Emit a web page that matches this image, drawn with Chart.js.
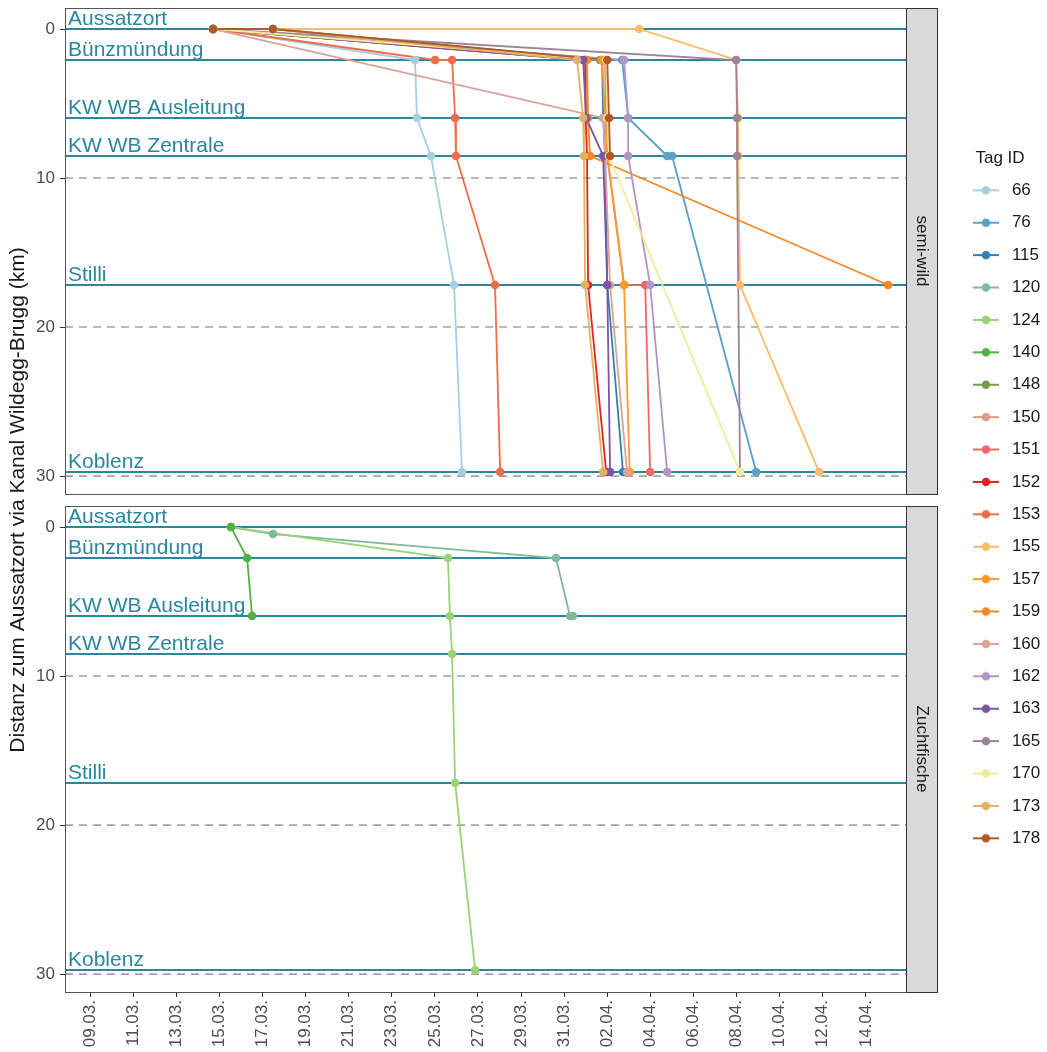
<!DOCTYPE html>
<html>
<head>
<meta charset="utf-8">
<script src="https://cdn.jsdelivr.net/npm/chart.js@4.4.1/dist/chart.umd.min.js"></script>
<style>
  html, body { margin: 0; padding: 0; background: #fff; }
</style>
</head>
<body>
<canvas id="fish" width="1047" height="1052"></canvas>
<script>
const FONT = "'Liberation Sans', Arial, sans-serif";

// river stations (km from release site)
const stationNames = ['Aussatzort', 'Bünzmündung', 'KW WB Ausleitung', 'KW WB Zentrale', 'Stilli', 'Koblenz'];
const stationKm = [0, 2.08, 5.97, 8.52, 17.18, 29.73];
const gridKm = [10, 20, 30];
const yTicks = [0, 10, 20, 30];
const yTickLabels = ['0', '10', '20', '30'];

// x = day counted from 1 March (32 = 01.04.)
const xTickDays = [9, 11, 13, 15, 17, 19, 21, 23, 25, 27, 29, 31, 33, 35, 37, 39, 41, 43, 45];
const xTickLabels = ['09.03.', '11.03.', '13.03.', '15.03.', '17.03.', '19.03.', '21.03.', '23.03.', '25.03.',
  '27.03.', '29.03.', '31.03.', '02.04.', '04.04.', '06.04.', '08.04.', '10.04.', '12.04.', '14.04.'];

const panelNames = ['semi-wild', 'Zuchtfische'];
const kmRange = [-1.41, 31.2];
const panelGap = 0.81;
const panelOffsets = [0, kmRange[1] - kmRange[0] + panelGap];

const tagIds = [66, 76, 115, 120, 124, 140, 148, 150, 151, 152, 153, 155, 157, 159, 160, 162, 163, 165, 170, 173, 178];
const tagPanel = [0, 0, 0, 1, 1, 1, 0, 0, 0, 0, 0, 0, 0, 0, 0, 0, 0, 0, 0, 0, 0];
const tagColors = ['#A6CEE3', '#5C9FC9', '#2E82B0', '#7FBB99', '#99D277', '#53B044', '#6F9E4D', '#DD9B89',
  '#F16767', '#E42022', '#F06C46', '#FDBC69', '#FE992C', '#F78720', '#DAA396', '#B295C7', '#7D54A6',
  '#9E819A', '#F0EC99', '#DCB466', '#B15928'];

// detections: [day, km]
const track66 = [[14.71, 0], [24.08, 2.08], [24.17, 5.97], [24.82, 8.52], [25.89, 17.18], [26.26, 29.73]];
const track76 = [[14.71, 0], [33.69, 2.08], [33.97, 5.97], [35.78, 8.52], [36.01, 8.52], [39.91, 29.73]];
const track115 = [[14.71, 0], [32.76, 2.08], [32.81, 5.97], [32.9, 8.52], [33.0, 17.18], [33.73, 29.73]];
const track120 = [[15.54, 0], [17.49, 0.47], [30.62, 2.08], [31.27, 5.97], [31.41, 5.97]];
const track124 = [[15.54, 0], [25.61, 2.08], [25.7, 5.97], [25.8, 8.52], [25.94, 17.18], [26.87, 29.73]];
const track140 = [[15.54, 0], [16.29, 2.08], [16.52, 5.97]];
const track148 = [[17.49, 0], [32.67, 2.08]];
const track150 = [[14.71, 0], [31.95, 2.08]];
const track151 = [[14.71, 0], [32.9, 2.08], [32.95, 5.97], [33.0, 8.52], [33.78, 17.18], [34.76, 17.18], [34.99, 29.73]];
const track152 = [[14.71, 0], [31.97, 2.08], [32.0, 5.97], [32.06, 8.52], [32.11, 17.18], [32.95, 29.73]];
const track153 = [[14.71, 0], [25.01, 2.08], [25.8, 2.08], [25.94, 5.97], [25.98, 8.52], [27.79, 17.18], [28.03, 29.73]];
const track155 = [[17.49, 0], [34.48, 0], [38.98, 2.08], [39.07, 5.97], [39.07, 8.52], [39.16, 17.18], [42.83, 29.73]];
const track157 = [[14.71, 0], [32.76, 2.08], [32.9, 5.97], [33.0, 8.52], [33.78, 17.18], [34.04, 29.73]];
const track159 = [[14.71, 0], [32.06, 2.08], [32.11, 5.97], [32.2, 8.52], [46.03, 17.18]];
const track160 = [[14.71, 0], [32.81, 5.97], [32.9, 8.52], [33.13, 17.18], [33.92, 29.73]];
const track162 = [[14.71, 0], [33.78, 2.08], [33.97, 5.97], [33.97, 8.52], [34.99, 17.18], [35.78, 29.73]];
const track163 = [[14.71, 0], [31.88, 2.08], [32.02, 5.97], [32.81, 8.52], [33.0, 17.18], [33.13, 29.73]];
const track165 = [[14.71, 0], [38.98, 2.08], [39.02, 5.97], [39.02, 8.52], [39.16, 29.73]];
const track170 = [[14.71, 0], [32.95, 2.08], [33.0, 5.97], [33.08, 8.52], [39.16, 29.73]];
const track173 = [[17.49, 0], [31.6, 2.08], [31.88, 5.97], [31.92, 8.52], [31.97, 17.18], [32.81, 29.73]];
const track178 = [[14.71, 0], [17.49, 0], [33.0, 2.08], [33.08, 5.97], [33.13, 8.52]];

const tracks = [track66, track76, track115, track120, track124, track140, track148, track150, track151,
  track152, track153, track155, track157, track159, track160, track162, track163, track165, track170,
  track173, track178];

function pointsOf(i) {
  const off = panelOffsets[tagPanel[i]];
  return tracks[i].map(([d, km]) => ({ x: d, y: km + off }));
}

// lines first, points on top (like geom_line + geom_point)
const lineSets = tagIds.map((id, i) => ({
  label: String(id), data: pointsOf(i), borderColor: tagColors[i], borderWidth: 1.8,
  pointRadius: 0, tension: 0, order: 100 - i
}));
const pointSets = tagIds.map((id, i) => ({
  label: String(id), data: pointsOf(i), showLine: false, pointRadius: 4.3, pointBorderWidth: 0,
  pointBackgroundColor: tagColors[i], borderColor: tagColors[i], order: 50 - i
}));

function legendKey(color) {
  const c = document.createElement('canvas');
  c.width = 26; c.height = 10;
  const g = c.getContext('2d');
  g.strokeStyle = color; g.lineWidth = 2;
  g.beginPath(); g.moveTo(0, 5); g.lineTo(26, 5); g.stroke();
  g.fillStyle = color;
  g.beginPath(); g.arc(13, 5, 4.3, 0, Math.PI * 2); g.fill();
  return c;
}

const facets = {
  id: 'facets',
  beforeDatasetsDraw(chart) {
    const { ctx, chartArea: a, scales: { y } } = chart;
    ctx.save();
    panelOffsets.forEach(off => {
      ctx.strokeStyle = '#A3A3A3';
      ctx.lineWidth = 1.6;
      ctx.setLineDash([8, 6]);
      gridKm.forEach(k => {
        const py = y.getPixelForValue(k + off);
        ctx.beginPath(); ctx.moveTo(a.left, py); ctx.lineTo(a.right, py); ctx.stroke();
      });
      ctx.setLineDash([]);
      ctx.strokeStyle = '#2B86A0';
      ctx.fillStyle = '#2B86A0';
      ctx.lineWidth = 2;
      ctx.font = '21px ' + FONT;
      ctx.textAlign = 'left';
      ctx.textBaseline = 'alphabetic';
      stationKm.forEach((k, i) => {
        const py = y.getPixelForValue(k + off);
        ctx.beginPath(); ctx.moveTo(a.left, py); ctx.lineTo(a.right, py); ctx.stroke();
        ctx.fillText(stationNames[i], a.left + 3, py - 4);
      });
    });
    ctx.restore();
  },
  afterDraw(chart) {
    const { ctx, chartArea: a, scales: { y } } = chart;
    ctx.save();
    panelOffsets.forEach((off, p) => {
      const top = y.getPixelForValue(kmRange[0] + off);
      const bot = y.getPixelForValue(kmRange[1] + off);
      ctx.strokeStyle = '#555555';
      ctx.lineWidth = 1;
      ctx.strokeRect(a.left + 0.5, top + 0.5, a.right - a.left, bot - top);
      ctx.fillStyle = '#D9D9D9';
      ctx.fillRect(a.right + 0.5, top + 0.5, 31, bot - top);
      ctx.strokeStyle = '#333333';
      ctx.strokeRect(a.right + 0.5, top + 0.5, 31, bot - top);
      ctx.translate(a.right + 16, (top + bot) / 2);
      ctx.rotate(Math.PI / 2);
      ctx.fillStyle = '#1A1A1A';
      ctx.font = '17px ' + FONT;
      ctx.textAlign = 'center';
      ctx.textBaseline = 'middle';
      ctx.fillText(panelNames[p], 0, 0);
      ctx.setTransform(1, 0, 0, 1, 0, 0);
    });
    ctx.translate(18, (a.top + a.bottom) / 2);
    ctx.rotate(-Math.PI / 2);
    ctx.fillStyle = '#1A1A1A';
    ctx.font = '21px ' + FONT;
    ctx.textAlign = 'center';
    ctx.textBaseline = 'middle';
    ctx.fillText('Distanz zum Aussatzort via Kanal Wildegg-Brugg (km)', 0, 0);
    ctx.restore();
  }
};

new Chart(document.getElementById('fish'), {
  type: 'line',
  data: { datasets: [...lineSets, ...pointSets] },
  options: {
    responsive: false,
    animation: false,
    events: [],
    layout: { padding: { top: 8, right: 0, bottom: 0, left: 0 } },
    scales: {
      x: {
        type: 'linear', min: 7.84, max: 46.86,
        afterBuildTicks: s => { s.ticks = xTickDays.map(v => ({ value: v })); },
        afterFit: s => { s.height = 60; s.paddingLeft = 0; s.paddingRight = 0; },
        ticks: {
          autoSkip: false, minRotation: 90, maxRotation: 90, padding: 3,
          color: '#4D4D4D', font: { family: FONT, size: 17 },
          callback: (v, i) => xTickLabels[i]
        },
        grid: { drawOnChartArea: false, tickLength: 5, tickColor: '#333333', tickWidth: 1 },
        border: { display: false }
      },
      y: {
        type: 'linear', reverse: true,
        min: kmRange[0], max: panelOffsets[1] + kmRange[1],
        afterBuildTicks: s => { s.ticks = panelOffsets.flatMap(o => yTicks.map(v => ({ value: v + o }))); },
        afterFit: s => { s.width = 65; s.paddingTop = 0; s.paddingBottom = 0; },
        ticks: {
          padding: 5, color: '#4D4D4D', font: { family: FONT, size: 17 },
          callback: (v, i) => yTickLabels[i % yTicks.length]
        },
        grid: { drawOnChartArea: false, tickLength: 5, tickColor: '#333333', tickWidth: 1 },
        border: { display: false }
      },
      strip: {
        type: 'linear', position: 'right', display: true,
        afterFit: s => { s.width = 47; s.paddingTop = 0; s.paddingBottom = 0; },
        ticks: { display: false },
        grid: { display: false },
        border: { display: false }
      }
    },
    plugins: {
      tooltip: { enabled: false },
      legend: {
        position: 'right',
        align: 'start',
        maxWidth: 94,
        title: {
          display: true, text: 'Tag ID', color: '#1A1A1A',
          font: { family: FONT, size: 17 }, padding: { top: 142, bottom: -4 }
        },
        labels: {
          usePointStyle: true, pointStyleWidth: 35, padding: 15.4,
          color: '#1A1A1A', font: { family: FONT, size: 17 },
          generateLabels: () => tagIds.map((id, i) => ({
            text: String(id), pointStyle: legendKey(tagColors[i]), fillStyle: tagColors[i],
            strokeStyle: tagColors[i], lineWidth: 0, hidden: false, datasetIndex: i, fontColor: '#1A1A1A'
          }))
        }
      }
    }
  },
  plugins: [facets]
});
</script>
</body>
</html>
